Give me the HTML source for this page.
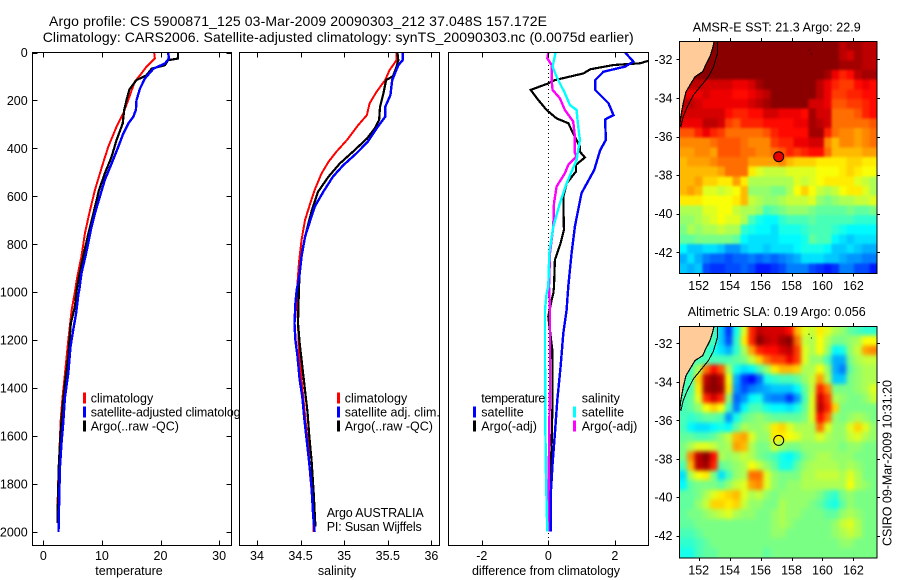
<!DOCTYPE html>
<html>
<head>
<meta charset="utf-8">
<title>Argo profile</title>
<style>
html,body{margin:0;padding:0;background:#fff;}
svg{display:block;}
text{font-family:"Liberation Sans",sans-serif;font-size:12.5px;fill:#000;}
.ttl{font-size:14px;}
</style>
</head>
<body>
<svg id="fig" xmlns="http://www.w3.org/2000/svg" width="900" height="580" viewBox="0 0 900 580">
<defs>
<clipPath id="clip1"><rect x="32" y="52" width="200" height="494"/></clipPath>
<clipPath id="clip2"><rect x="239" y="52" width="201" height="494"/></clipPath>
<clipPath id="clip3"><rect x="448" y="52" width="201" height="494"/></clipPath>
<clipPath id="clipM1"><rect x="679.5" y="41" width="197.5" height="232"/></clipPath>
<clipPath id="clipM2"><rect x="679.5" y="326" width="197.5" height="231.5"/></clipPath>
<filter id="softSst" filterUnits="userSpaceOnUse" x="640" y="0" width="260" height="580" color-interpolation-filters="sRGB"><feGaussianBlur stdDeviation="1.2"/></filter>
<filter id="softSla" filterUnits="userSpaceOnUse" x="640" y="280" width="260" height="300" color-interpolation-filters="sRGB"><feGaussianBlur stdDeviation="2.2"/></filter>
</defs>
<rect width="900" height="580" fill="#fff"/>
<text class="ttl" x="49" y="26" textLength="498" lengthAdjust="spacing">Argo profile: CS 5900871_125 03-Mar-2009 20090303_212 37.048S 157.172E</text>
<text class="ttl" x="42.7" y="42" textLength="591" lengthAdjust="spacing">Climatology: CARS2006. Satellite-adjusted climatology: synTS_20090303.nc (0.0075d earlier)</text>

<g id="panel1">
<rect x="32.5" y="52.5" width="199" height="493" fill="#fff"/>
<g id="lines1" clip-path="url(#clip1)"></g>
<g id="ticks1"></g>
<rect x="32.5" y="52.5" width="199" height="493" fill="none" stroke="#000"/>
<g>
<rect x="83" y="392.5" width="3" height="11" fill="#f00"/>
<rect x="83" y="406.5" width="3" height="11" fill="#00f"/>
<rect x="83" y="420.5" width="3" height="11" fill="#000"/>
<text x="90.7" y="402.5">climatology</text>
<text x="90.7" y="416.5" textLength="156" lengthAdjust="spacing">satellite-adjusted climatology</text>
<text x="90.7" y="430.5">Argo(..raw -QC)</text>
</g>
<text x="129" y="575" text-anchor="middle">temperature</text>
</g>

<g id="panel2">
<rect x="239.5" y="52.5" width="200" height="493" fill="#fff"/>
<g id="lines2" clip-path="url(#clip2)"></g>
<g id="ticks2"></g>
<rect x="239.5" y="52.5" width="200" height="493" fill="none" stroke="#000"/>
<g>
<rect x="337" y="392.5" width="3" height="11" fill="#f00"/>
<rect x="337" y="406.5" width="3" height="11" fill="#00f"/>
<rect x="337" y="420.5" width="3" height="11" fill="#000"/>
<text x="344.7" y="402.5">climatology</text>
<text x="344.7" y="416.5">satellite adj. clim.</text>
<text x="344.7" y="430.5">Argo(..raw -QC)</text>
</g>
<text x="326.7" y="517" textLength="97" lengthAdjust="spacing">Argo AUSTRALIA</text>
<text x="326.7" y="531" textLength="95" lengthAdjust="spacing">PI: Susan Wijffels</text>
<text x="337" y="575" text-anchor="middle">salinity</text>
</g>

<g id="panel3">
<rect x="448.5" y="52.5" width="200" height="493" fill="#fff"/>
<g id="lines3" clip-path="url(#clip3)"></g>
<g id="ticks3"></g>
<rect x="448.5" y="52.5" width="200" height="493" fill="none" stroke="#000"/>
<g>
<text x="481.3" y="402.5" textLength="64" lengthAdjust="spacing">temperature</text>
<rect x="473" y="406.5" width="3" height="11" fill="#00f"/>
<rect x="473" y="420.5" width="3" height="11" fill="#000"/>
<text x="481.3" y="416.5">satellite</text>
<text x="481.3" y="430.5">Argo(-adj)</text>
<text x="581.7" y="402.5">salinity</text>
<rect x="573" y="406.5" width="3" height="11" fill="#0ff"/>
<rect x="573" y="420.5" width="3" height="11" fill="#f0f"/>
<text x="581.7" y="416.5">satellite</text>
<text x="581.7" y="430.5">Argo(-adj)</text>
</g>
<text x="546" y="575" text-anchor="middle" textLength="148" lengthAdjust="spacing">difference from climatology</text>
</g>

<g id="map1"></g>
<g id="map2"></g>
<text x="776.7" y="31.5" text-anchor="middle" textLength="168" lengthAdjust="spacing">AMSR-E SST: 21.3 Argo: 22.9</text>
<text x="776.7" y="316" text-anchor="middle" textLength="178" lengthAdjust="spacing">Altimetric SLA: 0.19 Argo: 0.056</text>
<text transform="translate(891.5,463) rotate(-90)" text-anchor="middle" textLength="166" lengthAdjust="spacing">CSIRO 09-Mar-2009 10:31:20</text>
</svg>

<script>
// ---- axis tick labels ----
const depthTicks = [0,200,400,600,800,1000,1200,1400,1600,1800,2000];
const tempTicks = [0,10,20,30];
const salTicks = [34,34.5,35,35.5,36];
const diffTicks = [-2,0,2];
const lonTicks = [152,154,156,158,160,162];
const latTicks = [-32,-34,-36,-38,-40,-42];

// ---- temperature profiles ----
const tempClimDepth = [0,25,60,95,122,185,254,310,393,477,574,671,755,852,935,991,1074,1199,1338,1436,1519,1602,1713,1824,1935,1963];
const tempClimValues = [18.9,19.05,17.6,16.5,15.6,14.7,13.65,12.5,11.1,10,8.8,7.85,7.1,6.5,5.8,5.45,4.85,4.27,3.7,3.3,3,2.85,2.67,2.5,2.4,2.4];
const tempSatDepth = [0,25,46,67,108,150,199,240,268,296,338,393,463,532,602,671,741,838,922,991,1005,1088,1158,1227,1338,1436,1547,1630,1727,1824,2000];
const tempSatValues = [21.3,21.45,20.75,18.8,17.35,16.5,15.9,15.8,15.35,14.5,13.65,12.8,11.65,10.5,9.65,8.8,8.1,7.3,6.5,6.15,6,5.6,5.1,4.65,4.27,3.7,3.4,3.1,2.85,2.75,2.6];
const tempArgoDepth = [0,25,32,53,67,95,115,154,199,240,296,366,435,505,574,671,755,852,935,991,1060,1130,1268,1380,1491,1588,1713,1824,1963];
const tempArgoValues = [23,23,21.3,20.75,18.5,17.6,15.9,14.7,14.2,13.8,13.55,12.5,11.65,10.5,9.5,8.55,7.7,6.8,6.1,5.7,5.4,4.7,4.27,3.7,3.25,2.95,2.67,2.55,2.4];

// ---- salinity profiles ----
const salClimDepth = [0,32,74,115,164,213,261,303,366,414,456,505,574,630,699,783,880,963,1047,1130,1241,1324,1436,1547,1644,1769,1880,2000];
const salClimValues = [35.6,35.6,35.52,35.47,35.37,35.29,35.26,35.16,35.03,34.91,34.82,34.74,34.66,34.61,34.55,34.51,34.48,34.465,34.46,34.47,34.48,34.5,34.53,34.56,34.59,34.61,34.64,34.65];
const salSatDepth = [0,32,53,81,115,178,227,268,317,373,421,470,518,581,644,713,769,852,935,991,1047,1130,1199,1268,1366,1436,1519,1616,1699,1810,1935,2000];
const salSatValues = [35.67,35.67,35.62,35.59,35.55,35.53,35.47,35.47,35.37,35.27,35.14,34.99,34.87,34.76,34.66,34.6,34.55,34.51,34.485,34.455,34.44,34.43,34.44,34.465,34.49,34.52,34.54,34.57,34.595,34.625,34.645,34.66];
const salArgoDepth = [0,32,60,99,115,171,227,282,317,359,414,463,518,581,657,741,824,908,991,1130,1213,1310,1408,1505,1602,1699,1838,1977];
const salArgoValues = [35.61,35.62,35.6,35.56,35.48,35.45,35.41,35.4,35.35,35.26,35.1,34.95,34.82,34.7,34.63,34.57,34.52,34.49,34.48,34.47,34.49,34.52,34.55,34.58,34.6,34.625,34.65,34.67];

// ---- difference profiles ----
const diffTempSatDepth = [0,38,59,80,115,156,184,212,261,279,365,407,490,587,726,837,976,1074,1172,1311,1450,1589,1714,1853,1999];
const diffTempSatValues = [2.31,2.56,2.31,1.66,1.41,1.41,1.61,1.81,1.96,1.71,1.73,1.56,1.38,1,0.8,0.7,0.6,0.55,0.45,0.37,0.27,0.2,0.13,0.07,0.07];
const diffTempArgoDepth = [0,25,35,45,52,70,87,115,129,156,198,240,275,295,337,393,414,438,469,497,546,601,740,796,865,976,1005,1033,1102,1241,1436,1644,1728,1853,1992];
const diffTempArgoValues = [4.1,4,3,2.76,1.96,1.26,1.06,0.2,0,-0.53,-0.3,-0.05,0.25,0.6,0.75,0.95,0.95,1.1,0.83,0.83,0.55,0.45,0.47,0.37,0.2,0.17,0.15,0.1,0,0.12,0.13,0.1,0.07,0.05,0.05];
const diffSalSatDepth = [0,59,101,170,219,240,309,365,448,546,629,726,837,976,1005,1074,1269,1547,1769,1999];
const diffSalSatValues = [0.22,0.13,0.25,0.5,0.65,0.85,0.9,0.95,0.85,0.55,0.35,0.15,0.03,0,-0.05,-0.1,-0.1,-0.09,-0.07,-0.03];
const diffSalArgoDepth = [0,24,52,115,156,191,240,288,351,420,434,469,504,559,629,726,837,976,1074,1408,1547,1825,1999];
const diffSalArgoValues = [0,-0.03,0.1,0.1,0.13,0.35,0.5,0.75,0.8,0.8,0.85,0.6,0.5,0.25,0.17,0.15,0.05,0.02,0.05,0.05,0.03,0.01,0];

// ---- SST heatmap, colour index 0-20 on a jet scale; rows north to south ----
const sstGrid = [
[20,20,20,20,20,20,20,20,20,20,20,20,20,20,20,20,20,20,20,20,20,19,19.5,19.5,19,19],
[20,20,20,20,20,20,20,20,20,20,20,20,20,20,20,20,20,20,20,20,20,19,18.5,19.5,19,19],
[20,20,20,20,20,20,20,20,20,20,20,20,20,20,20,20,20,20,20,20,20,19.5,19.5,19.5,19,19],
[20,20,20,20,20,20,20,20,20,20,20,20,20,20,20,20,20,20,20,19.5,18,17,17.5,19,19.5,19.5],
[20,19,19,18.5,18.5,18.5,18.5,18,18,18.5,19.5,20,20,20,20,20,20,20,19,18,17,16.5,16.5,17.5,18,17.5],
[18,18,18,18.5,18,18,18,17.5,17.5,18,18.5,19,20,20,20,20,20,20,19,18,16.5,16.5,17,17,17.5,17.5],
[19,19,18.5,18,18,18,18,18,18,18.5,19,19.5,20,20,20,20,20,18.5,18.5,18,16,16,16.5,16.5,17,17.5],
[18.5,18.5,18.5,18.5,18.5,18.5,17.5,17,17,17.5,17.5,18.5,18.5,18,18,18,17.5,19.5,18.5,18.5,15.5,15.5,15.5,16,17,17.5],
[18,18,18,19,19,18.5,16.5,16,17,17,17,17.5,17.5,17.5,17.5,18,18,19.5,19,18.5,15.5,15.5,15.5,15.5,15.5,16],
[16,16,17,18,17,16.5,15.5,15.5,15.5,15.5,15.5,16,17,17.5,17.5,17.5,17.5,19.5,19.5,17,15.5,15,15,14.5,15,15.5],
[15,15,15,15,15.5,16,16,16,15.5,15,15,15,16.5,17,17,18,18,18.5,18.5,15,14,15,15,14.5,15,15.5],
[14.5,14.5,15,15,14.5,16,16,16,15.5,15.5,15,15,15.5,16,17,16.5,17,17.5,17.5,15.5,14,14,14,14,14.5,14.5],
[14,14.5,14.5,14.5,15,15.5,15.5,15.5,15.5,14.5,14.5,14.5,14.5,15,14,13.5,13.5,13.5,13,13,13,13,13.5,13.5,13,13],
[14,14,14,14,14,14.5,15.5,15.5,15.5,13,12,11.5,11.5,11.5,12,12,12,12,12.5,12.5,12.5,13,13.5,13,12.5,12.5],
[14,14,14.5,13.5,13.5,13,13,14.5,13,11,11,11,11,11,11,12,11.5,12,12.5,13,13,13,13,12,11.5,11],
[14,14.5,14,12,12,11.5,12,12.5,14,10.5,10.5,10.5,10,10,11,12.5,13.5,12.5,11.5,11,11.5,12.5,13,13,12,11],
[13,13,13,12.5,12.5,12.5,12.5,13,14,11.5,11,10.5,10.5,11,11.5,11.5,11.5,12,10.5,10,10.5,11,11,11.5,11.5,12],
[11,11,11,12,12,12.5,12.5,11.5,11,11,10.5,9,9.5,10,10.5,10.5,10.5,10,9.5,9.5,9.5,9.5,10,9.5,9.5,10],
[10.5,10.5,11,11.5,12,12.5,12,12,11,9,8,7.5,7.5,8.5,9,9,9,9.5,9,9,9,9,9,8.5,8.5,8.5],
[10,11,10.5,11,11,11.5,11,11,8.5,8,7.5,7.5,7,8,8,8,8.5,9,9,9,8.5,8,7.5,7.5,7.5,7.5],
[9.5,9.5,10,10,10,10,10,9.5,7.5,7,7,7,7,7.5,7.5,7.5,8,9.5,9,9,7.5,7,6.5,7,7,7],
[7.5,6.5,6.5,7,7,6.5,5.5,5.5,6.5,7,7,6.5,7,7,7,7.5,8,8,8,7.5,6.5,6.5,7,6.5,6,6],
[6,7,6,5,4.5,4.5,4,4.5,4.5,5,4.5,5,4.5,5,5.5,6,7,7,7,6.5,6.5,6,5.5,5.5,5,5],
[6.5,6,6.5,4,3.5,3.5,4,4,4.5,4,3,3,3.5,4,5,5,5,4,3.5,3,3.5,5,5,4,4,3]
];

// ---- SLA heatmap ----
const slaGrid = [
[9,9,9,9,9,6.5,3.5,8,12,17,19,18.5,18.5,18.5,17.5,14,12,11.5,13,12,11,10.5,9.5,9,8.5,8.5],
[9,9,9,9,9,6.5,4,8.5,13,17,20,19,18.5,19.5,20,15.5,11.5,11,12.5,11,10,10,10.5,11,12.5,12.5],
[9,9,9,9,8,7,6,8.5,11,14.5,17,17.5,17.5,18.5,19,16.5,12,11,12.5,10.5,7.5,8,10.5,11.5,14.5,15],
[9,9,9,9,9,9,9,9.5,10,11.5,13.5,15.5,16.5,16.5,18,16.5,12,10.5,10.5,9,6,6,10,11,11.5,11.5],
[9,9,11,15.5,17.5,16,11,8,7,7.5,9,10.5,13,14,14,13.5,11,11,12.5,10.5,6,5,9.5,10.5,11,11],
[9,9,13.5,19,20,19,12.5,6,3.5,2.5,4.5,8,8.5,9,9,9.5,10.5,11.5,14.5,11,6.5,6.5,10,10.5,11,11],
[9,9,13,19.5,20,19.5,13,5.5,4,5,5.5,6,6.5,6.5,6.5,7.5,9.5,11.5,17,15,10,10,10,10.5,11,12],
[9,9.5,12,17,18.5,17,10.5,4.5,5.5,7.5,8,5.5,5,5,3.5,5.5,9,12,18.5,16.5,11,10.5,10,10,10.5,11.5],
[9,9.5,10.5,12.5,13.5,12.5,9,5,7.5,9,9,8,7.5,7.5,7,8,9.5,12,19,17,13.5,10,10,10,10,10],
[9,8.5,9,9.5,9.5,9,5.5,8,9.5,10,10.5,10,9.5,9.5,9.5,9.5,10,12,17.5,15.5,10.5,10,10.5,11,10.5,10],
[9,7.5,7,7,7.5,8,7.5,9.5,11,10.5,10.5,11,13,13.5,12,11,11,11,15.5,12,10.5,10.5,12,13.5,12,10.5],
[9.5,9.5,9,9,9.5,10.5,11.5,14,14.5,12,10.5,10.5,13,13,12.5,12,11,11,12,11,10.5,10.5,11.5,12,11,10.5],
[10,11,12,12,11.5,10.5,11,14.5,14,11,10,10,11.5,10.5,10,10,10.5,10.5,10.5,10.5,10.5,10,10.5,10.5,10,10],
[10,15,19,20,17.5,11,10.5,11,11.5,11,10,9.5,9,8,7.5,8.5,10,10.5,11,11,10.5,10.5,10.5,10,10,10],
[9,14,19,19.5,17,9.5,10,10.5,11,12.5,11.5,10.5,9.5,8,8,9.5,10.5,11,11,11,11,10.5,11,10.5,10,10],
[7,11,12.5,13,10,7,9,10.5,11,15.5,15.5,12,10.5,10,10,10,11,11,11.5,11.5,11.5,11,12,11,10,10],
[7.5,9.5,10,10,10,9.5,10.5,11.5,12,14.5,15,12,10.5,10,10.5,10.5,11,11,11,11,11,11,12.5,11,10.5,10],
[9.5,9.5,10,11,12,13,13.5,14,12,11,11.5,10.5,10,10.5,10.5,10.5,10.5,10.5,10,9,8.5,10,10.5,10,10,10],
[9.5,9.5,10.5,11.5,13.5,13.5,13,13.5,11.5,10.5,10.5,10,10,11,10.5,10.5,10.5,10,9.5,8.5,8,9.5,10.5,10,10,10],
[9.5,10,10,10.5,11,11.5,12,11,10.5,10.5,10,10,10.5,11,10.5,10.5,10,10,10,9.5,9.5,10.5,11,10.5,10,10],
[9.5,9.5,10,10,10,10,10,10,10,10,10,10,10.5,11,10.5,10,10,10,10,10,10.5,11.5,12,11,10,10],
[9,9,9.5,10,10,10,10,10,10,10,10,10,10.5,10.5,10,10,10,10,10,10,10.5,11,11.5,11,10,10],
[8.5,8.5,9,9.5,10,10,10,10,10,10,10,10,10,10,10,10,10,10,10,10,10,10.5,10.5,10,10,10],
[8,8,9,9.5,9.5,10,10,10,10,10,10,9.5,10,10,10,10,10,10,10,10,10,10,10,10,10,10]
];

// ---- coast and shelf contour (longitude, south latitude) ----
const coastLon = [153,152.9,152.73,152.45,152.26,151.76,151.44,151.18,151,150.84,150.75];
const coastLat = [31.07,31.43,31.86,32.29,32.64,32.9,33.33,33.68,34.28,34.97,35.58];
const shelfLon = [153.23,153.23,152.95,152.63,152.19,151.66,151.27,151,150.84];
const shelfLat = [31.07,31.65,32.41,32.9,33.33,33.85,34.45,34.97,35.52];
const floatLon = 157.172;
const floatLat = 37.048;

const NS = 'http://www.w3.org/2000/svg';
function mk(tag, parent, attrs) {
  const el = document.createElementNS(NS, tag);
  for (const k in attrs) el.setAttribute(k, attrs[k]);
  parent.appendChild(el);
  return el;
}
const Y0 = 52.5, YK = 0.2397;
function yDepth(d) { return Y0 + d * YK; }
function xTemp(v) { return 43.3 + v * 5.86; }
function xSal(v) { return 257 + (v - 34) * 87.2; }
function xDiff(v) { return 548.3 + v * 33.25; }

function drawLine(groupId, name, xFn, depths, values, color, width) {
  const pts = depths.map((d, i) => xFn(values[i]).toFixed(1) + ',' + yDepth(d).toFixed(1)).join(' ');
  const el = mk('polyline', document.getElementById(groupId), {points: pts, fill: 'none', stroke: color, 'stroke-width': width, 'shape-rendering': 'crispEdges'});
  
  
}
drawLine('lines1', 'temperature-climatology-line', xTemp, tempClimDepth, tempClimValues, '#f00', 2);
drawLine('lines1', 'temperature-argo-line', xTemp, tempArgoDepth, tempArgoValues, '#000', 2.2);
drawLine('lines1', 'temperature-satellite-line', xTemp, tempSatDepth, tempSatValues, '#00f', 2.4);
drawLine('lines2', 'salinity-climatology-line', xSal, salClimDepth, salClimValues, '#f00', 2);
drawLine('lines2', 'salinity-argo-line', xSal, salArgoDepth, salArgoValues, '#000', 2.2);
drawLine('lines2', 'salinity-satellite-line', xSal, salSatDepth, salSatValues, '#00f', 2.4);

const zero = mk('line', document.getElementById('lines3'), {x1: xDiff(0), x2: xDiff(0), y1: 53, y2: 545, stroke: '#000', 'stroke-width': 1, 'stroke-dasharray': '1 3', 'shape-rendering': 'crispEdges'});


drawLine('lines3', 'difference-temperature-argo-line', xDiff, diffTempArgoDepth, diffTempArgoValues, '#000', 2.2);
drawLine('lines3', 'difference-salinity-argo-line', xDiff, diffSalArgoDepth, diffSalArgoValues, '#f0f', 2.4);
drawLine('lines3', 'difference-salinity-satellite-line', xDiff, diffSalSatDepth, diffSalSatValues, '#0ff', 2.4);
drawLine('lines3', 'difference-temperature-satellite-line', xDiff, diffTempSatDepth, diffTempSatValues, '#00f', 2.4);

function addTick(g, x1, y1, x2, y2) {
  const t = mk('line', g, {x1: x1, y1: y1, x2: x2, y2: y2, stroke: '#000', 'stroke-width': 1, 'shape-rendering': 'crispEdges'});
  
  
}
function addLabel(g, x, y, str, anchor, name) {
  const t = mk('text', g, {x: x, y: y, 'text-anchor': anchor});
  t.textContent = str;
  
  
}
function xAxis(id, ticks, xFn, name) {
  const g = document.getElementById(id);
  ticks.forEach(v => {
    const x = Math.round(xFn(v)) + 0.5;
    addTick(g, x, 52.5, x, 57.5);
    addTick(g, x, 545.5, x, 540.5);
    addLabel(g, xFn(v), 560, String(v), 'middle', name);
  });
}
xAxis('ticks1', tempTicks, xTemp, 'temperature-tick-label');
xAxis('ticks2', salTicks, xSal, 'salinity-tick-label');
xAxis('ticks3', diffTicks, xDiff, 'difference-tick-label');
(function () {
  const g = document.getElementById('ticks1');
  depthTicks.forEach(d => {
    const y = Math.round(yDepth(d)) + 0.5;
    addTick(g, 32.5, y, 37.5, y);
    addTick(g, 231.5, y, 226.5, y);
    addLabel(g, 27.7, yDepth(d) + 4.5, String(d), 'end', 'depth-tick-label');
  });
})();

function jet(v) {
  const t = v / 20.2;
  const c = x => Math.round(255 * Math.max(0, Math.min(1, x)));
  const r = c(Math.min(4 * t - 1.5, -4 * t + 4.5));
  const g = c(Math.min(4 * t - 0.5, -4 * t + 3.5));
  const b = c(Math.min(4 * t + 0.5, -4 * t + 2.5));
  return 'rgb(' + r + ',' + g + ',' + b + ')';
}

function drawMap(id, clipId, filterId, grid, top, bottom, lat32, filled) {
  const g = document.getElementById(id);
  const L = 679.5, R = 877;
  const lonX = lon => 698.7 + (lon - 152) * 15.47;
  const latY = lat => lat32 + (lat - 32) * ((bottom - top) / 12.02);
  const body = mk('g', g, {'clip-path': 'url(#' + clipId + ')'});
  
  
  const cells = mk('g', body, {filter: 'url(#' + filterId + ')'});
  
  
  const cw = (R - L) / grid[0].length, ch = (bottom - top) / grid.length;
  const pad = 12;
  grid.forEach((row, r) => row.forEach((v, c) => {
    const x0 = L + c * cw - (c === 0 ? pad : 0);
    const x1 = L + (c + 1) * cw + (c === row.length - 1 ? pad : 0.4);
    const y0 = top + r * ch - (r === 0 ? pad : 0);
    const y1 = top + (r + 1) * ch + (r === grid.length - 1 ? pad : 0.4);
    const cell = mk('rect', cells, {x: x0.toFixed(2), y: y0.toFixed(2), width: (x1 - x0).toFixed(2), height: (y1 - y0).toFixed(2), fill: jet(v), 'shape-rendering': 'crispEdges'});
    
    
  }));
  const coastPts = coastLon.map((lo, i) => lonX(lo).toFixed(1) + ',' + latY(coastLat[i]).toFixed(1));
  const landPts = coastPts.concat([L + ',' + latY(35.58).toFixed(1), L + ',' + top, lonX(153) + ',' + top]).join(' ');
  const land = mk('polygon', body, {points: landPts, fill: '#ffcc99', stroke: 'none'});
  
  
  const coast = mk('polyline', body, {points: coastPts.join(' '), fill: 'none', stroke: '#000', 'stroke-width': 1.2, 'shape-rendering': 'crispEdges'});
  
  
  const shelf = mk('polyline', body, {points: shelfLon.map((lo, i) => lonX(lo).toFixed(1) + ',' + latY(shelfLat[i]).toFixed(1)).join(' '), fill: 'none', stroke: '#000', 'stroke-width': 1, 'shape-rendering': 'crispEdges'});
  
  
  const isl = mk('rect', body, {x: lonX(159.1).toFixed(1), y: latY(31.5).toFixed(1), width: 1, height: 1, fill: '#000'});
  
  
  const isl2 = mk('rect', body, {x: lonX(159.25).toFixed(1), y: latY(31.7).toFixed(1), width: 1, height: 1, fill: '#000'});
  
  
  const dot = mk('circle', body, {cx: lonX(floatLon).toFixed(1), cy: latY(floatLat).toFixed(1), r: 5, fill: filled ? '#e60000' : 'none', stroke: '#000', 'stroke-width': 1});
  
  
  const frame = mk('rect', g, {x: L, y: top + 0.5, width: R - L, height: bottom - top, fill: 'none', stroke: '#000', 'stroke-width': 1, 'shape-rendering': 'crispEdges'});
  
  
  lonTicks.forEach(lo => {
    const x = Math.round(lonX(lo)) + 0.5;
    addTick(g, x, top, x, top - 3);
    addTick(g, x, bottom + 0.5, x, bottom + 3.5);
    addLabel(g, lonX(lo), bottom + 17, String(lo), 'middle', 'longitude-tick-label');
  });
  latTicks.forEach(la => {
    const y = Math.round(latY(-la)) + 0.5;
    addTick(g, L, y, L - 3, y);
    addTick(g, R, y, R + 3, y);
    addLabel(g, 672.5, latY(-la) + 4.5, String(la), 'end', 'latitude-tick-label');
  });
}
drawMap('map1', 'clipM1', 'softSst', sstGrid, 41, 273, 59.3, true);
drawMap('map2', 'clipM2', 'softSla', slaGrid, 326, 557.3, 343.3, false);
</script>
</body>
</html>
